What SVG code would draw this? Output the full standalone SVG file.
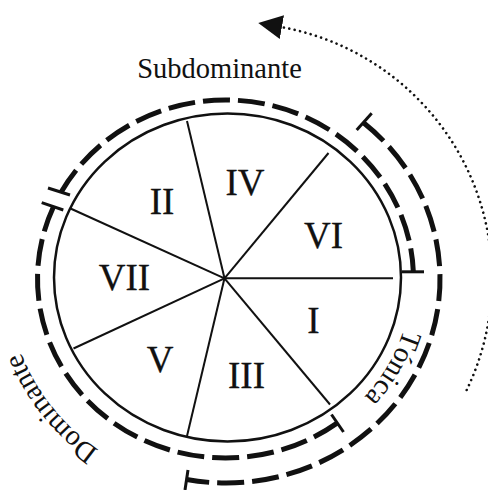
<svg xmlns="http://www.w3.org/2000/svg" width="488" height="490" viewBox="0 0 488 490">
<style>
.num{font-family:"Liberation Serif","Times New Roman",serif;font-size:37px;text-anchor:middle;fill:#111;stroke:#111;stroke-width:0.3}
.lbl{font-family:"Liberation Serif","Times New Roman",serif;font-size:28.5px;fill:#111}
.spoke{stroke:#111;stroke-width:2;fill:none}
.ring{fill:none;stroke:#111;stroke-width:5;stroke-dasharray:27 8}
.tick{stroke:#111;stroke-width:3;fill:none}
.dots{fill:none;stroke:#111;stroke-width:2.6;stroke-linecap:round;stroke-dasharray:0.01 5.5}
</style>
<defs>
<marker id="arrow" markerUnits="userSpaceOnUse" markerWidth="24" markerHeight="24" viewBox="0 0 24 24" refX="1" refY="12" orient="auto">
<path d="M0,0 L24,12 L0,24 Z" fill="#111" stroke="none"/>
</marker>
<path id="pTonica" d="M403.8,329.3 A186,177 0 0 1 289.1,445.3"/>
<path id="pDominante" d="M98.8,450 A219,210 0 0 1 7.8,297.3"/>
</defs>
<rect width="488" height="490" fill="#fff"/>
<g id="wheel">
<ellipse cx="227.5" cy="277.5" rx="173.5" ry="164" fill="none" stroke="#111" stroke-width="2.5"/>
<g id="spokes">
<line class="spoke" x1="224.5" y1="278.3" x2="187" y2="121"/>
<line class="spoke" x1="224.5" y1="278.3" x2="328.5" y2="153"/>
<line class="spoke" x1="224.5" y1="278.3" x2="393" y2="278.3"/>
<line class="spoke" x1="224.5" y1="278.3" x2="330" y2="404.5"/>
<line class="spoke" x1="224.5" y1="278.3" x2="187" y2="436"/>
<line class="spoke" x1="224.5" y1="278.3" x2="73.5" y2="348.5"/>
<line class="spoke" x1="224.5" y1="278.3" x2="70.5" y2="208.5"/>
</g>
</g>
<g id="deg-II"><text class="num" x="162" y="214">II</text></g>
<g id="deg-IV"><text class="num" x="245" y="195">IV</text></g>
<g id="deg-VI"><text class="num" x="323.5" y="248">VI</text></g>
<g id="deg-VII"><text class="num" x="124.5" y="290">VII</text></g>
<g id="deg-I"><text class="num" x="313.5" y="333">I</text></g>
<g id="deg-V"><text class="num" x="160" y="372">V</text></g>
<g id="deg-III"><text class="num" x="246.5" y="388">III</text></g>
<g id="subdominante">
<path class="ring" d="M60.9,192.5 A188,179 0 0 1 413.35,271.8"/>
<line class="tick" x1="48" y1="188" x2="70" y2="195"/>
<line class="tick" x1="402" y1="271.8" x2="424" y2="271.8"/>
<text class="lbl" x="219.5" y="78" text-anchor="middle">Subdominante</text>
</g>
<g id="tonica">
<path class="ring" d="M363.56,122.73 A214,204 0 0 1 186.63,479.53"/>
<line class="tick" x1="356.7" y1="130" x2="371.7" y2="113.3"/>
<line class="tick" x1="188" y1="470" x2="185" y2="490"/>
<text class="lbl"><textPath href="#pTonica">Tónica</textPath></text>
</g>
<g id="dominante">
<path class="ring" d="M337.06,423.08 A188,179 0 0 1 53.48,206.77"/>
<line class="tick" x1="331.5" y1="414.5" x2="343.5" y2="432"/>
<line class="tick" x1="41.7" y1="202.7" x2="63.3" y2="210"/>
<text class="lbl"><textPath href="#pDominante">Dominante</textPath></text>
</g>
<g id="connectors">
<path class="dots" d="M466.7,390 A256,256 0 0 0 280.9,27" marker-end="url(#arrow)"/>
</g>
</svg>
